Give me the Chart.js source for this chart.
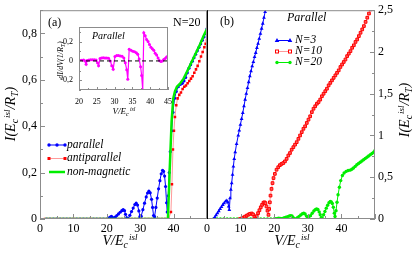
<!DOCTYPE html>
<html>
<head>
<meta charset="utf-8">
<script src="https://cdn.jsdelivr.net/npm/chart.js@4.4.1/dist/chart.umd.min.js"></script>
<style>
  body { margin: 0; background: #fff; }
  #wrap { position: relative; width: 415px; height: 254px; overflow: hidden; font-family: "Liberation Serif", "DejaVu Serif", serif; }
  canvas { position: absolute; left: 0; top: 0; }
  .t { position: absolute; white-space: nowrap; line-height: 1; color: #000; }
  .it { font-style: italic; }
  .sb { position: relative; top: 0.35em; font-size: 0.7em; }
  .sp { position: relative; top: -0.55em; font-size: 0.65em; margin-left: 1px; }
  .xt { font-size: 14px; font-style: italic; transform: translateX(-50%); }
  .yt { font-size: 14px; font-style: italic; transform: translate(-50%, -50%) rotate(-90deg); }
</style>
</head>
<body>
<div id="wrap">
  <canvas id="chartA" width="415" height="254"></canvas>
  <canvas id="chartB" width="415" height="254"></canvas>
  <canvas id="chartInset" width="415" height="254"></canvas>

  <svg style="position:absolute;left:0;top:0" width="415" height="254">
    <!-- legend (a) -->
    <line x1="49" y1="145" x2="65" y2="145" stroke="#0000ff" stroke-width="1"/>
    <circle cx="49" cy="145" r="1.7" fill="#0000ff"/>
    <circle cx="57" cy="145" r="1.7" fill="#0000ff"/>
    <circle cx="65" cy="145" r="1.7" fill="#0000ff"/>
    <line x1="49" y1="158.5" x2="65" y2="158.5" stroke="#ff9a9a" stroke-width="1"/>
    <rect x="47.5" y="157" width="3" height="3" fill="#ff0000"/>
    <rect x="63.5" y="157" width="3" height="3" fill="#ff0000"/>
    <line x1="49" y1="172" x2="65" y2="172" stroke="#00ee00" stroke-width="2.5"/>
    <!-- legend (b) -->
    <line x1="277" y1="40.5" x2="290" y2="40.5" stroke="#0000ff" stroke-width="1"/>
    <polygon points="277,38 279.3,42 274.7,42" fill="#0000ff"/>
    <polygon points="290,38 292.3,42 287.7,42" fill="#0000ff"/>
    <line x1="277" y1="51.5" x2="290" y2="51.5" stroke="#ff9a9a" stroke-width="1"/>
    <rect x="275.5" y="50" width="3" height="3" fill="#fff" stroke="#ff0000" stroke-width="1"/>
    <rect x="288.5" y="50" width="3" height="3" fill="#fff" stroke="#ff0000" stroke-width="1"/>
    <line x1="277" y1="62.5" x2="290" y2="62.5" stroke="#00ee00" stroke-width="1"/>
    <circle cx="277" cy="62.5" r="1.7" fill="#00ee00"/>
    <circle cx="290" cy="62.5" r="1.7" fill="#00ee00"/>
  </svg>

  <div class="t" style="left:48px;top:16px;font-size:12px">(a)</div>
  <div class="t" style="left:173px;top:16px;font-size:12px">N=20</div>
  <div class="t" style="left:220px;top:15px;font-size:12px">(b)</div>
  <div class="t it" style="left:287px;top:11px;font-size:12px">Parallel</div>
  <div class="t it" style="left:295px;top:34px;font-size:11.5px">N=3</div>
  <div class="t it" style="left:295px;top:45px;font-size:11.5px">N=10</div>
  <div class="t it" style="left:295px;top:56px;font-size:11.5px">N=20</div>
  <div class="t it" style="left:67px;top:138.5px;font-size:11.5px">parallel</div>
  <div class="t it" style="left:67px;top:152px;font-size:11.5px">antiparallel</div>
  <div class="t it" style="left:67px;top:165.5px;font-size:11.5px">non-magnetic</div>
  <div class="t it" style="left:92px;top:31px;font-size:10px">Parallel</div>

  <div class="t xt" style="left:120px;top:234px">V/E<span class="sb">c</span><span class="sp">isl</span></div>
  <div class="t xt" style="left:292px;top:234px">V/E<span class="sb">c</span><span class="sp">isl</span></div>
  <div class="t yt" style="left:11px;top:114px">I(E<span class="sb">c</span><span class="sp">isl</span>/R<span class="sb">T</span>)</div>
  <div class="t yt" style="left:405px;top:110px">I(E<span class="sb">c</span><span class="sp">isl</span>/R<span class="sb">T</span>)</div>
  <div class="t xt" style="left:124px;top:107px;font-size:9px">V/E<span class="sb">c</span><span class="sp">isl</span></div>
  <div class="t yt" style="left:61px;top:60px;font-size:8px">dI/dV(1/R<span class="sb">T</span>)</div>
</div>

<script>
// panel (a), N=20 : current vs voltage, [V, I]
const parallelN20 = [
  [2,0],[3,0],[4,0],[5,0],[6,0],[7,0],[8,0],[9,0],[10,0],[11,0],[12,0],[13,0],[14,0],[15,0],[16,0],[17,0],[18,0],[19,0],
  [20,0],[20.5,0.004],[21,0.008],[21.4,0.011],[21.8,0.006],[22.1,0.003],[22.5,0.008],[23,0.015],[23.5,0.022],[24,0.029],
  [24.5,0.036],[24.9,0.04],[25.3,0.036],[25.6,0.02],[26,0.005],[26.4,0.002],
  [26.9,0.016],[27.4,0.032],[27.9,0.047],[28.4,0.062],[28.8,0.068],[29.2,0.06],[29.6,0.035],[29.9,0.01],
  [30.3,0.012],[30.8,0.04],[31.3,0.068],[31.8,0.095],[32.2,0.112],[32.6,0.12],[33,0.113],[33.4,0.085],[33.7,0.05],[34,0.015],
  [34.3,0.01],[34.7,0.05],[35.1,0.09],[35.5,0.13],[35.9,0.165],[36.3,0.195],[36.7,0.21],[37,0.205],[37.3,0.185],[37.6,0.14],[37.9,0.07],[38.1,0.03],
  [38.4,0.1],[38.7,0.2],[39,0.29],[39.4,0.38],[39.8,0.46],[40.3,0.52],[40.8,0.55],[41.4,0.57],[42,0.58],[42.6,0.585],
  [43.1,0.595],[43.6,0.61],[44.1,0.63],[44.6,0.65],[45.1,0.665],[45.6,0.68],[46.1,0.695],[46.6,0.71],[47.1,0.725],[47.6,0.74],
  [48.1,0.755],[48.6,0.77],[49.1,0.785],[49.6,0.8],[50,0.82]
];
const antiparallelN20 = [
  [1.5,0],[2.5,0],[3.5,0],[4.5,0],[5.5,0],[6.5,0],[7.5,0],[8.5,0],[9.5,0],[10.5,0],[11.5,0],[12.5,0],[13.5,0],
  [14.5,0],[15.5,0],[16.5,0],[17.5,0],[18.5,0],[19.5,0],[20.5,0],[21.5,0],[22.5,0],[23.5,0],[24.5,0],[25.5,0],
  [26.5,0],[27.5,0],[28.5,0],[29.5,0],[30.5,0],[31.5,0],[32.5,0],[33.5,0],[34.5,0],[35.5,0],[36.5,0],[37.5,0],[38.5,0],
  [39.2,0.03],[39.5,0.15],[39.8,0.3],[40.1,0.38],[40.4,0.44],[40.8,0.49],[41.2,0.52],[41.7,0.535],[42.2,0.545],[42.7,0.56],
  [43.2,0.57],[43.7,0.575],[44.2,0.585],[44.7,0.595],[45.2,0.605],[45.7,0.615],[46.2,0.63],[46.7,0.645],[47.2,0.66],
  [47.7,0.68],[48.2,0.7],[48.7,0.72],[49.2,0.74],[49.6,0.755],[50,0.77]
];
const nonMagneticN20 = [
  [1.5,0],[38.3,0],[38.8,0.2],[39.4,0.42],[39.9,0.52],[40.4,0.55],[41,0.57],[42,0.585],[43,0.605],[44,0.635],
  [45,0.665],[46,0.695],[47,0.725],[48,0.755],[49,0.79],[50,0.82]
];

// panel (b), parallel : N=3 and N=10 (N=20 is parallelN20)
const parallelN3 = [
  [1.9,0],[2.3,0.02],[2.7,0.045],[3.1,0.07],[3.5,0.095],[3.9,0.12],[4.3,0.145],[4.7,0.17],[5.1,0.19],[5.5,0.21],
  [5.9,0.22],[6.2,0.2],[6.45,0.15],[6.65,0.11],[6.85,0.25],[7.1,0.35],[7.35,0.43],[7.6,0.53],[7.85,0.63],[8.1,0.72],
  [8.4,0.8],[8.8,0.9],[9.3,1],[9.6,1.06],[9.95,1.13],[10.3,1.2],[10.65,1.27],[11,1.35],[11.35,1.43],[11.7,1.5],
  [12.05,1.57],[12.4,1.64],[12.75,1.71],[13.1,1.77],[13.45,1.83],[13.8,1.88],[14.15,1.94],[14.5,1.99],[14.85,2.05],
  [15.2,2.1],[15.55,2.16],[15.9,2.22],[16.25,2.28],[16.6,2.34],[16.95,2.41],[17.3,2.48],[17.6,2.54]
];
const parallelN10 = [
  [9.8,0],[10.3,0.006],[10.8,0.016],[11.3,0.028],[11.8,0.04],[12.3,0.052],[12.8,0.062],[13.3,0.066],[13.7,0.055],
  [14.1,0.025],[14.4,0.005],[14.8,0.035],[15.2,0.07],[15.6,0.105],[16,0.14],[16.4,0.17],[16.8,0.195],[17.1,0.2],
  [17.4,0.19],[17.7,0.15],[18,0.1],[18.3,0.05],[18.5,0.12],[18.7,0.2],[18.9,0.28],[19.2,0.36],[19.5,0.43],[19.8,0.49],
  [20.2,0.54],[20.7,0.59],[21.2,0.62],[21.7,0.645],[22.2,0.66],[22.7,0.67],[23.2,0.69],[23.7,0.72],[24.2,0.76],
  [24.7,0.79],[25.2,0.83],[25.7,0.86],[26.2,0.89],[26.7,0.92],[27.2,0.96],[27.7,1],[28.2,1.04],[28.7,1.08],[29.2,1.11],
  [29.7,1.15],[30.2,1.19],[30.7,1.23],[31.2,1.28],[31.7,1.32],[32.2,1.35],[32.7,1.38],[33.2,1.4],[33.7,1.43],[34.2,1.47],
  [34.7,1.5],[35.2,1.53],[35.7,1.56],[36.2,1.6],[36.7,1.63],[37.2,1.66],[37.7,1.69],[38.2,1.72],[38.7,1.75],[39.2,1.78],
  [39.7,1.82],[40.2,1.85],[40.7,1.88],[41.2,1.91],[41.7,1.95],[42.2,1.98],[42.7,2.01],[43.2,2.05],[43.7,2.08],
  [44.2,2.12],[44.7,2.15],[45.2,2.19],[45.7,2.23],[46.2,2.27],[46.7,2.31],[47.2,2.36],[47.7,2.41],[48.2,2.46],[48.7,2.51]
];

// inset: dI/dV for parallel N=20
const dIdVParallel = [
  [20.3,0.005],[20.8,0.008],[21.3,0.01],[21.7,0],[22,-0.035],[22.3,0.005],[22.8,0.01],[23.3,0.012],[23.8,0.013],
  [24.3,0.012],[24.8,0.01],[25.2,-0.02],[25.5,-0.05],[25.9,0.025],[26.3,0.03],[26.8,0.032],[27.3,0.03],[27.8,0.03],
  [28.3,0.028],[28.8,0],[29.2,-0.05],[29.6,-0.085],[30.1,0.045],[30.6,0.055],[31.1,0.055],[31.6,0.05],[32.1,0.048],
  [32.6,0.03],[33,-0.02],[33.4,-0.09],[33.7,-0.19],[34.1,0.12],[34.6,0.11],[35.1,0.1],[35.6,0.095],[36.1,0.085],
  [36.5,0.07],[36.9,0.02],[37.3,-0.06],[37.6,-0.15],[37.9,-0.3],[38.2,0.29],[38.6,0.26],[39,0.22],[39.4,0.2],
  [39.8,0.17],[40.2,0.14],[40.6,0.125],[41,0.11],[41.4,0.08],[41.8,0.06],[42.2,0.03],[42.6,0.005],[43,-0.005],
  [43.4,0],[43.8,0.015],[44.2,0.025],[44.6,0.04],[45,0.05]
];
const insetZeroLine = [[20,0],[45,0]];

// tick labels
const xTicksA = [0, 10, 20, 30, 40];
const yTicksA = [0, 0.2, 0.4, 0.6, 0.8];
const xTicksB = [0, 10, 20, 30, 40];
const yTicksB = [0, 0.5, 1, 1.5, 2, 2.5];
const xTicksInset = [20, 25, 30, 35, 40, 45];
const yTicksInset = [-0.2, 0, 0.2];

const SERIF = '"Liberation Serif", "DejaVu Serif", serif';
Chart.defaults.font.family = SERIF;
Chart.defaults.color = '#000';

const pts = arr => arr.map(p => ({ x: p[0], y: p[1] }));
const fmt = v => String(v).replace('.', ',');

// inward tick marks + frame, drawn through the chart scales
const frameTicks = {
  id: 'frameTicks',
  beforeDatasetsDraw(chart, args, o) {
    if (!o.fill) return;
    const a = chart.chartArea, ctx = chart.ctx;
    ctx.save();
    ctx.fillStyle = o.fill;
    ctx.fillRect(a.left, a.top, a.right - a.left, a.bottom - a.top);
    ctx.restore();
  },
  afterDatasetsDraw(chart, args, o) {
    const { ctx, chartArea: a } = chart;
    const xs = chart.scales.x, ys = chart.scales.y;
    const isMajor = (v, step) => Math.abs(v / step - Math.round(v / step)) < 1e-6;
    ctx.save();
    ctx.strokeStyle = o.color;
    ctx.lineWidth = 1;
    ctx.beginPath();
    const nx = Math.round((xs.max - xs.min) / o.xMinor);
    for (let i = 0; i <= nx; i++) {
      const v = xs.min + i * o.xMinor;
      const px = Math.round(xs.getPixelForValue(v)) + 0.5;
      const len = isMajor(v, o.xMajor) ? o.major : o.minor;
      ctx.moveTo(px, a.bottom);
      ctx.lineTo(px, a.bottom - len);
    }
    const edge = o.ySide === 'right' ? a.right : a.left;
    const dir = o.ySide === 'right' ? -1 : 1;
    const first = Math.ceil(ys.min / o.yMinor - 1e-6);
    const last = Math.floor(ys.max / o.yMinor + 1e-6);
    for (let i = first; i <= last; i++) {
      const v = i * o.yMinor;
      const py = Math.round(ys.getPixelForValue(v)) + 0.5;
      const len = isMajor(v, o.yMajor) ? o.major : o.minor;
      ctx.moveTo(edge, py);
      ctx.lineTo(edge + dir * len, py);
    }
    ctx.stroke();
    ctx.strokeRect(a.left + 0.5, a.top + 0.5, a.right - a.left - 1, a.bottom - a.top - 1);
    if (o.leftLine) {
      ctx.strokeStyle = o.leftLine;
      ctx.beginPath();
      ctx.moveTo(a.left + 0.5, a.top);
      ctx.lineTo(a.left + 0.5, a.bottom);
      ctx.stroke();
    }
    ctx.restore();
  }
};

function axis(min, max, ticks, o) {
  return {
    type: 'linear',
    min: min,
    max: max,
    position: o.position,
    grid: { display: false, drawTicks: false, tickLength: 0 },
    border: { display: false },
    afterBuildTicks: s => { s.ticks = ticks.map(v => ({ value: v })); },
    afterFit: s => {
      if (o.w !== undefined) s.width = o.w;
      if (o.h !== undefined) s.height = o.h;
    },
    ticks: {
      autoSkip: false,
      maxRotation: 0,
      padding: o.pad,
      color: '#000',
      font: { family: SERIF, size: o.size },
      callback: v => fmt(v)
    }
  };
}

function baseOptions(padding, scales, ticksOpts) {
  return {
    responsive: false,
    animation: false,
    devicePixelRatio: 1,
    layout: { padding: padding },
    events: [],
    plugins: {
      legend: { display: false },
      tooltip: { enabled: false },
      frameTicks: ticksOpts
    },
    scales: scales
  };
}

// panel (a)
new Chart(document.getElementById('chartA'), {
  type: 'line',
  data: {
    datasets: [
      {
        label: 'non-magnetic',
        data: pts(nonMagneticN20),
        borderColor: '#00ee00',
        borderWidth: 2.5,
        pointRadius: 0,
        order: 0
      },
      {
        label: 'parallel',
        data: pts(parallelN20),
        borderColor: '#0000ff',
        backgroundColor: '#0000ff',
        borderWidth: 1,
        pointRadius: 1.6,
        pointBorderWidth: 0,
        order: 1
      },
      {
        label: 'antiparallel',
        data: pts(antiparallelN20),
        borderColor: '#ff9a9a',
        backgroundColor: '#ff0000',
        pointBorderColor: '#ff0000',
        borderWidth: 1,
        pointStyle: 'rect',
        pointRadius: 1.8,
        pointBorderWidth: 0,
        order: 2
      }
    ]
  },
  options: baseOptions(
    { left: 0, top: 5, right: 208, bottom: 0 },
    {
      x: axis(0, 50, xTicksA, { position: 'bottom', h: 35, pad: 3, size: 12 }),
      y: axis(0, 0.9, yTicksA, { position: 'left', w: 40, pad: 3, size: 12 })
    },
    { color: '#8c8c8c', xMinor: 5, xMajor: 10, yMinor: 0.1, yMajor: 0.2, major: 5, minor: 3, ySide: 'left' }
  ),
  plugins: [frameTicks]
});

// panel (b)
new Chart(document.getElementById('chartB'), {
  type: 'line',
  data: {
    datasets: [
      {
        label: 'N=3',
        data: pts(parallelN3),
        borderColor: '#0000ff',
        backgroundColor: '#0000ff',
        borderWidth: 1,
        pointStyle: 'triangle',
        pointRadius: 2.2,
        pointBorderWidth: 0
      },
      {
        label: 'N=10',
        data: pts(parallelN10),
        borderColor: '#ff9a9a',
        backgroundColor: '#ff6060',
        pointBorderColor: '#ff0000',
        borderWidth: 1,
        pointStyle: 'rect',
        pointRadius: 1.9,
        pointBorderWidth: 1
      },
      {
        label: 'N=20',
        data: pts(parallelN20),
        borderColor: '#00ee00',
        backgroundColor: '#00ee00',
        borderWidth: 1,
        pointRadius: 1.7,
        pointBorderWidth: 0
      }
    ]
  },
  options: baseOptions(
    { left: 207, top: 5, right: 0, bottom: 0 },
    {
      x: axis(0, 50, xTicksB, { position: 'bottom', h: 35, pad: 3, size: 12 }),
      y: axis(0, 2.5, yTicksB, { position: 'right', w: 40, pad: 3, size: 12 })
    },
    { color: '#8c8c8c', xMinor: 5, xMajor: 10, yMinor: 0.25, yMajor: 0.5, major: 5, minor: 3, ySide: 'right', leftLine: '#000' }
  ),
  plugins: [frameTicks]
});

// inset of panel (a)
new Chart(document.getElementById('chartInset'), {
  type: 'line',
  data: {
    datasets: [
      {
        label: 'zero',
        data: pts(insetZeroLine),
        borderColor: '#000',
        borderWidth: 1,
        borderDash: [4, 3],
        pointRadius: 0
      },
      {
        label: 'dI/dV',
        data: pts(dIdVParallel),
        borderColor: '#ff00ff',
        backgroundColor: '#ff00ff',
        borderWidth: 1.2,
        pointRadius: 1.5,
        pointBorderWidth: 0
      }
    ]
  },
  options: baseOptions(
    { left: 59, top: 27, right: 247, bottom: 148 },
    {
      x: axis(20, 45, xTicksInset, { position: 'bottom', h: 16, pad: 7, size: 8 }),
      y: axis(-0.3, 0.35, yTicksInset, { position: 'left', w: 20, pad: 6, size: 8 })
    },
    { color: '#8c8c8c', fill: '#fff', xMinor: 2.5, xMajor: 5, yMinor: 0.1, yMajor: 0.2, major: 3, minor: 2, ySide: 'left' }
  ),
  plugins: [frameTicks]
});
</script>
</body>
</html>
